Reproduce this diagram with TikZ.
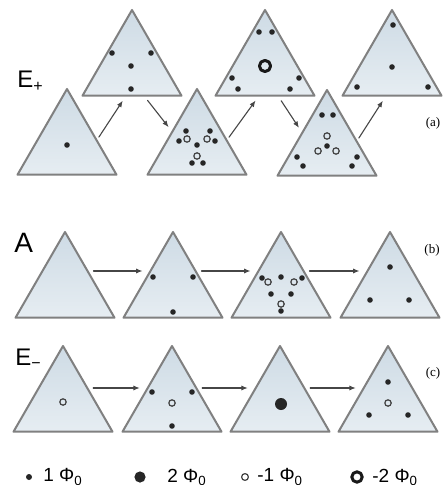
\documentclass[tikz,border=0pt]{standalone}
\usepackage{fontspec}
\setmainfont{Liberation Sans}
\newfontfamily\tagfont{Liberation Serif}
\usetikzlibrary{arrows.meta,calc}

\definecolor{triedge}{RGB}{128,128,128}
\definecolor{tritop}{RGB}{206,219,229}
\definecolor{tribot}{RGB}{230,237,242}
\definecolor{flowline}{RGB}{70,70,70}

\begin{document}
\begin{tikzpicture}[
	x=0.5pt, y=-0.5pt,
	line cap=round,
	line join=round,
	tri/.style={draw=triedge, line width=1pt, top color=tritop, bottom color=tribot},
	flux/.style={-{Latex[length=3.2pt,width=2.6pt]}, draw=flowline, line width=0.55pt},
	onephi/.style={fill=black!85},
	negphi/.style={draw=black!75, line width=0.6pt},
	negtwophi/.style={draw=black!90, line width=1.5pt},
	rowlabel/.style={font=\fontsize{12}{14}\selectfont, anchor=base west, inner sep=0pt},
	tag/.style={font=\tagfont\fontsize{6.5}{8}\selectfont, inner sep=0pt},
	key/.style={font=\fontsize{9.5}{11}\selectfont, anchor=west, inner sep=0pt}
	]

	\useasboundingbox[fill=white] (0,0) rectangle (446,485);

	% triangles, apex given
	\foreach \n/\x/\y in {a1/67/89, a2/132/10, a3/197/89, a4/265/10, a5/327/90, a6/392/10,
		b1/65/232, b2/173/232, b3/281/232, b4/390/232,
		c1/63/346, c2/172/346, c3/280/346, c4/388/346}{
		\coordinate (\n) at (\x,\y);
		\coordinate (\n-l) at (\x-49.5,\y+85.7);
		\coordinate (\n-r) at (\x+49.5,\y+85.7);
		\draw[tri] (\n) -- (\n-l) -- (\n-r) -- cycle;
	}

	% row labels
	\node[rowlabel] (lab-a) at (17,88) {E\textsubscript{+}};
	\node[rowlabel, font=\fontsize{14}{16}\selectfont] (lab-b) at (14,253) {A};
	\node[rowlabel] (lab-c) at (15,365) {E\textsubscript{−}};
	\node[tag] (tag-a) at (433,123) {(a)};
	\node[tag] (tag-b) at (432,250) {(b)};
	\node[tag] (tag-c) at (433,373) {(c)};

	% arrows, E+ row
	\draw[flux, shorten <=2pt, shorten >=3pt] ($(a1)!0.6!(a1-r)$) -- ($(a2-l)!0.44!(a2-r)$);
	\draw[flux, shorten <=3pt, shorten >=3pt] ($(a2-l)!0.62!(a2-r)$) -- ($(a3)!0.5!(a3-l)$);
	\draw[flux, shorten <=2pt, shorten >=3pt] ($(a3)!0.6!(a3-r)$) -- ($(a4-l)!0.44!(a4-r)$);
	\draw[flux, shorten <=3pt, shorten >=3pt] ($(a4-l)!0.63!(a4-r)$) -- ($(a5)!0.5!(a5-l)$);
	\draw[flux, shorten <=2pt, shorten >=3pt] ($(a5)!0.6!(a5-r)$) -- ($(a6-l)!0.44!(a6-r)$);

	% arrows, A and E- rows
	\foreach \s/\t in {b1/b2, b2/b3, b3/b4}
		\draw[flux, shorten <=3pt, shorten >=4pt] ($(\s)!0.455!(\s-r)$) -- ($(\t)!0.455!(\t-l)$);
	\foreach \s/\t in {c1/c2, c2/c3, c3/c4}
		\draw[flux, shorten <=3pt, shorten >=4pt] ($(\s)!0.49!(\s-r)$) -- ($(\t)!0.49!(\t-l)$);

	% single quanta
	\foreach \p in {(67,145),
		(112,53), (151,53), (131,66), (131,89),
		(186,131), (210,131), (179,141), (197,145), (215,141), (192,163), (203,163),
		(259,32), (272,32), (232,78), (299,78), (238,89), (290,89),
		(322,115), (333,115), (327,146), (297,157), (303,166), (357,157), (352,166),
		(393,25), (392,67), (357,87), (428,87),
		(153,277), (193,277), (173,312),
		(262,278), (281,277), (302,278), (271,294), (291,294), (281,311),
		(390,267), (370,300), (409,300),
		(152,392), (192,392), (172,426),
		(388,382), (369,415), (408,415)}
		\fill[onephi] \p circle[radius=1.4pt];

	% anti quanta
	\foreach \p in {(187,139), (207,139), (197,156),
		(327,136), (318,151), (336,151),
		(268,282), (294,282), (281,304),
		(63,402), (172,403), (388,403)}
		\draw[negphi] \p circle[radius=1.6pt];

	% double quanta
	\draw[negtwophi] (265,66) circle[radius=2.8pt];
	\fill[onephi] (281,404) circle[radius=3pt];

	% key
	\fill[onephi] (29,477) circle[radius=1.5pt];
	\node[key] (k1) at (43,477) {1 Φ\textsubscript{0}};
	\fill[onephi] (140,477) circle[radius=2.8pt];
	\node[key] (k2) at (167,477) {2 Φ\textsubscript{0}};
	\draw[negphi] (245,477) circle[radius=1.7pt];
	\node[key] (k3) at (257,477) {-1 Φ\textsubscript{0}};
	\draw[negtwophi] (357,477) circle[radius=2.6pt];
	\node[key] (k4) at (372,477) {-2 Φ\textsubscript{0}};

\end{tikzpicture}
\end{document}
